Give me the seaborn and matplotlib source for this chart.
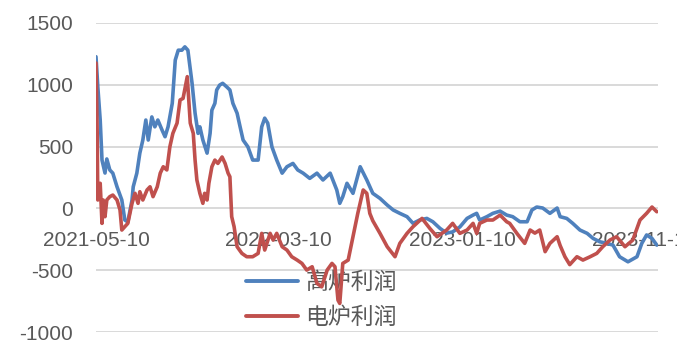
import matplotlib
matplotlib.use("Agg")
import matplotlib.pyplot as plt
import matplotlib.dates as mdates
from matplotlib.patches import Rectangle
import seaborn as sns
import pandas as pd

# 高炉利润 (blue)
bf_dates = ["2021-05-10", "2021-05-13", "2021-05-17", "2021-05-20", "2021-05-25", "2021-05-28",
            "2021-06-02", "2021-06-07", "2021-06-14", "2021-06-22", "2021-06-27", "2021-07-02",
            "2021-07-09", "2021-07-11", "2021-07-17", "2021-07-22", "2021-07-27", "2021-08-01",
            "2021-08-05", "2021-08-11", "2021-08-16", "2021-08-21", "2021-08-28", "2021-09-02",
            "2021-09-07", "2021-09-14", "2021-09-19", "2021-09-24", "2021-09-30", "2021-10-05",
            "2021-10-10", "2021-10-17", "2021-10-22", "2021-10-27", "2021-10-30", "2021-11-04",
            "2021-11-11", "2021-11-16", "2021-11-19", "2021-11-24", "2021-11-27", "2021-12-02",
            "2021-12-07", "2021-12-14", "2021-12-19", "2021-12-24", "2021-12-31", "2022-01-05",
            "2022-01-10", "2022-01-18", "2022-01-26", "2022-02-04", "2022-02-10", "2022-02-15",
            "2022-02-20", "2022-02-27", "2022-03-07", "2022-03-16", "2022-03-24", "2022-04-03",
            "2022-04-11", "2022-04-20", "2022-05-01", "2022-05-13", "2022-05-23", "2022-06-04",
            "2022-06-15", "2022-06-20", "2022-06-25", "2022-07-02", "2022-07-12", "2022-07-24",
            "2022-08-04", "2022-08-14", "2022-08-26", "2022-09-07", "2022-09-17", "2022-09-28",
            "2022-10-10", "2022-10-20", "2022-10-31", "2022-11-12", "2022-11-22", "2022-12-04",
            "2022-12-15", "2022-12-25", "2023-01-06", "2023-01-18", "2023-01-28", "2023-02-03",
            "2023-02-08", "2023-02-20", "2023-03-02", "2023-03-14", "2023-03-25", "2023-04-04",
            "2023-04-16", "2023-04-28", "2023-05-06", "2023-05-14", "2023-05-24", "2023-06-05",
            "2023-06-17", "2023-06-22", "2023-07-03", "2023-07-13", "2023-07-25", "2023-08-06",
            "2023-08-16", "2023-08-27", "2023-09-08", "2023-09-18", "2023-09-29", "2023-10-13",
            "2023-10-28", "2023-11-05", "2023-11-13", "2023-11-22", "2023-11-30"]
bf_profit = [1227, 985, 715, 391, 286, 400,
             311, 285, 175, 68, -94, -110,
             68, 175, 285, 447, 553, 715,
             553, 740, 660, 715, 634, 580,
             660, 850, 1200, 1280, 1280, 1307,
             1280, 1012, 770, 607, 660, 553,
             447, 607, 795, 850, 958, 998,
             1012, 982, 958, 850, 770, 660,
             553, 498, 391, 391, 660, 730,
             690, 498, 391, 285, 337, 364,
             311, 285, 243, 285, 230, 285,
             149, 41, 95, 203, 122, 337,
             230, 122, 81, 27, -13, -40,
             -67, -121, -94, -81, -108, -162,
             -200, -190, -150, -81, -54, -40,
             -94, -67, -40, -22, -54, -67,
             -108, -108, -13, 11, 3, -40,
             3, -67, -81, -121, -175, -202,
             -243, -270, -283, -297, -391, -432,
             -391, -283, -215, -243, -297]

# 电炉利润 (red)
ef_dates = ["2021-05-10", "2021-05-12", "2021-05-13", "2021-05-17", "2021-05-20", "2021-05-22",
            "2021-05-25", "2021-05-28", "2021-06-02", "2021-06-07", "2021-06-14", "2021-06-19",
            "2021-06-22", "2021-06-27", "2021-07-02", "2021-07-09", "2021-07-14", "2021-07-19",
            "2021-07-22", "2021-07-27", "2021-08-03", "2021-08-08", "2021-08-13", "2021-08-20",
            "2021-08-25", "2021-08-30", "2021-09-05", "2021-09-10", "2021-09-15", "2021-09-22",
            "2021-09-27", "2021-10-02", "2021-10-09", "2021-10-14", "2021-10-19", "2021-10-22",
            "2021-10-25", "2021-10-30", "2021-11-04", "2021-11-07", "2021-11-11", "2021-11-14",
            "2021-11-19", "2021-11-24", "2021-11-29", "2021-12-06", "2021-12-11", "2021-12-16",
            "2021-12-19", "2021-12-22", "2021-12-26", "2021-12-31", "2022-01-08", "2022-01-16",
            "2022-01-26", "2022-02-04", "2022-02-10", "2022-02-15", "2022-02-24", "2022-03-01",
            "2022-03-07", "2022-03-16", "2022-03-24", "2022-04-01", "2022-04-10", "2022-04-18",
            "2022-04-26", "2022-05-05", "2022-05-13", "2022-05-21", "2022-05-30", "2022-06-07",
            "2022-06-12", "2022-06-17", "2022-06-20", "2022-06-25", "2022-07-04", "2022-07-12",
            "2022-07-20", "2022-07-29", "2022-08-04", "2022-08-09", "2022-08-14", "2022-08-26",
            "2022-09-07", "2022-09-20", "2022-09-28", "2022-10-10", "2022-10-20", "2022-11-04",
            "2022-11-17", "2022-11-29", "2022-12-15", "2022-12-25", "2023-01-06", "2023-01-18",
            "2023-01-28", "2023-02-03", "2023-02-08", "2023-02-20", "2023-03-02", "2023-03-14",
            "2023-03-25", "2023-03-30", "2023-04-11", "2023-04-24", "2023-05-03", "2023-05-11",
            "2023-05-19", "2023-05-28", "2023-06-05", "2023-06-17", "2023-06-22", "2023-06-30",
            "2023-07-08", "2023-07-20", "2023-07-30", "2023-08-11", "2023-08-22", "2023-09-01",
            "2023-09-13", "2023-09-24", "2023-10-08", "2023-10-21", "2023-11-02", "2023-11-13",
            "2023-11-22", "2023-11-30"]
ef_profit = [1176, 607, 68, 203, -121, 68,
             -67, 68, 95, 108, 68, -13,
             -175, -148, -121, 41, 122, 41,
             135, 68, 149, 175, 95, 175,
             285, 337, 311, 498, 607, 690,
             877, 890, 1066, 690, 607, 391,
             230, 122, 41, 122, 68, 203,
             337, 391, 364, 416, 364, 285,
             256, -67, -148, -310, -364, -391,
             -391, -364, -202, -337, -202, -256,
             -202, -310, -337, -391, -418, -445,
             -499, -472, -607, -634, -499, -445,
             -472, -742, -769, -445, -418, -229,
             -40, 149, 122, -40, -100, -202,
             -310, -391, -283, -202, -148, -81,
             -162, -229, -175, -121, -202, -175,
             -121, -202, -121, -94, -94, -54,
             -108, -121, -202, -283, -175, -200,
             -175, -350, -283, -229, -300, -391,
             -455, -391, -418, -391, -364, -310,
             -256, -229, -310, -256, -94, -40,
             11, -27]

series_names = ["高炉利润", "电炉利润"]
colors = ["#4F81BD", "#C0504D"]
tick_dates = ["2021-05-10", "2022-03-10", "2023-01-10", "2023-11-10"]
y_ticks = [-1000, -500, 0, 500, 1000, 1500]

df = pd.concat([
    pd.DataFrame({"date": pd.to_datetime(bf_dates), "profit": bf_profit, "name": series_names[0]}),
    pd.DataFrame({"date": pd.to_datetime(ef_dates), "profit": ef_profit, "name": series_names[1]}),
])

sns.set_style("white")
plt.rcParams["font.family"] = ["Liberation Sans", "Noto Sans CJK SC", "DejaVu Sans"]
plt.rcParams["axes.unicode_minus"] = False

fig = plt.figure(figsize=(6.91, 3.43), dpi=100)
ax = fig.add_axes([96 / 691, 1 - 332 / 343, (658 - 96) / 691, (332 - 23) / 343])

sns.lineplot(data=df, x="date", y="profit", hue="name", hue_order=series_names,
             palette=colors, linewidth=2.6, ax=ax, legend=True, zorder=3)

ax.set_ylim(-1000, 1500)
ax.set_xlim(pd.Timestamp("2021-05-10"), pd.Timestamp("2023-12-02"))
ax.set_yticks(y_ticks)
ax.set_xticks(pd.to_datetime(tick_dates))
ax.xaxis.set_major_formatter(mdates.DateFormatter("%Y-%m-%d"))
ax.grid(axis="y", color="#d9d9d9", linewidth=1.4)
ax.grid(axis="x", visible=False)
ax.set_xlabel("")
ax.set_ylabel("")
for s in ax.spines.values():
    s.set_visible(False)
ax.spines["bottom"].set_position(("data", 0))
ax.tick_params(axis="y", length=0, pad=16.5, labelsize=15, labelcolor="#595959")
ax.tick_params(axis="x", length=0, pad=16, labelsize=15, labelcolor="#595959")

old = ax.get_legend()
handles = old.legend_handles
labels = [t.get_text() for t in old.get_texts()]
old.remove()
for h in handles:
    h.set_linewidth(2.8)
leg = ax.legend(handles, labels, loc="center", bbox_to_anchor=(0.465, 0.125),
                bbox_transform=fig.transFigure, frameon=False,
                prop={"family": ["Noto Sans CJK SC"], "size": 16.5},
                handlelength=2.3, handletextpad=0.3, labelspacing=0.55)
for t in leg.get_texts():
    t.set_color("#595959")
leg.set_zorder(1)

# excel hides the part of the last date label that does not fit
fig.add_artist(Rectangle((677 / 691, 0), 14 / 691, 1, transform=fig.transFigure,
                         facecolor="white", edgecolor="none", zorder=10))

fig.savefig("out.png", dpi=100)
